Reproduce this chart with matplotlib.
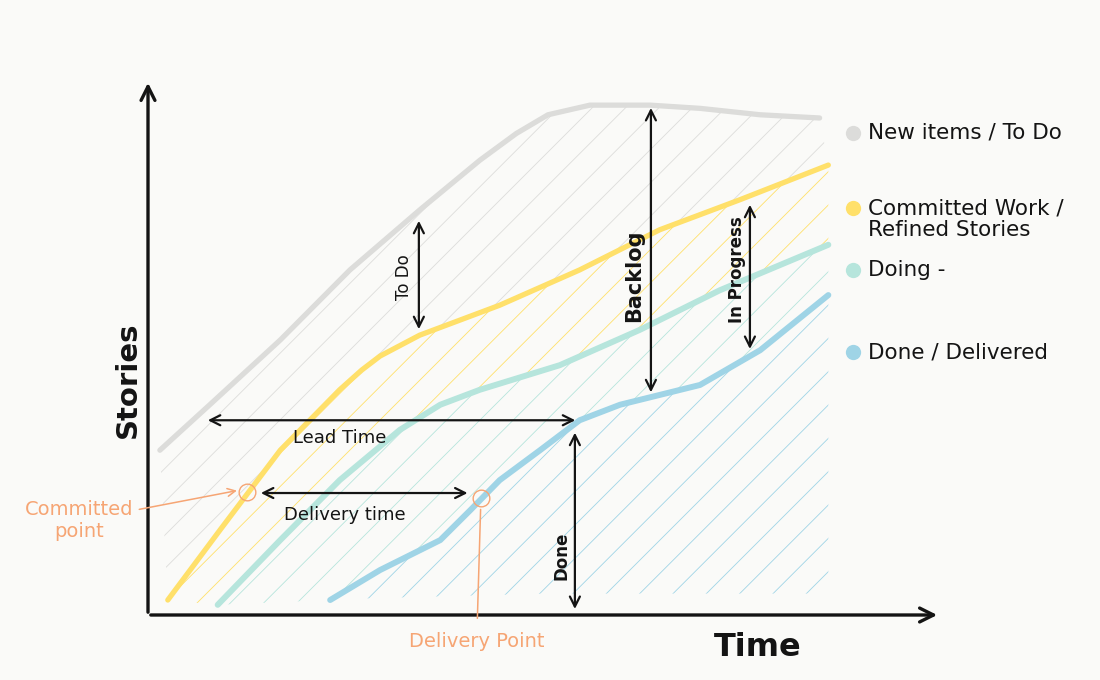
import matplotlib
matplotlib.use("Agg")
import matplotlib.pyplot as plt
from matplotlib.lines import Line2D
import numpy as np

# cumulative flow curves (time, stories)
todo_t = [1.5, 7.8, 16.7, 25.5, 34.3, 41.9, 46.5, 50.5, 55.8, 63.4, 69.7, 77.3, 84.8]
todo_y = [30.8, 39.3, 51.4, 64.5, 75.7, 85.0, 90.0, 93.5, 95.3, 95.3, 94.7, 93.5, 92.9]

committed_t = [2.5, 9.1, 16.7, 24.2, 27.0, 29.3, 34.3, 44.4, 54.5, 64.6, 74.7, 85.9]
committed_y = [2.8, 15.9, 30.8, 42.1, 45.8, 48.4, 52.3, 57.9, 64.5, 72.0, 77.6, 84.1]

doing_t = [8.8, 16.7, 24.2, 31.8, 36.9, 41.9, 52.0, 62.1, 72.2, 85.9]
doing_y = [1.9, 14.0, 25.2, 34.6, 39.3, 42.1, 46.7, 53.3, 60.7, 69.2]

done_t = [23.0, 29.3, 36.9, 40.7, 44.4, 49.5, 54.5, 59.6, 69.7, 77.3, 85.9]
done_y = [2.8, 8.4, 14.0, 19.6, 25.2, 30.8, 36.4, 39.3, 43.0, 49.5, 59.8]

# lower edge of the scribbled "done" area
floor_t = [85.9, 50.0, 25.0]
floor_y = [4.0, 4.0, 3.0]

labels = ["New items / To Do", "Committed Work /\nRefined Stories", "Doing -", "Done / Delivered"]
colors = ["#dcdcda", "#ffe06a", "#b6e5dc", "#9fd4e6"]
legend_y = [133, 208, 270, 352]  # pixel rows of the legend dots
orange = "#f6a574"
ink = "#141414"

plt.rcParams["hatch.linewidth"] = 0.6

fig = plt.figure(figsize=(11, 6.8), dpi=100, facecolor="#fafaf8")
ax = fig.add_axes([148 / 1100, 65 / 680, 792 / 1100, 535 / 680])
ax.set_facecolor("#fafaf8")
ax.set_xlim(0, 100)
ax.set_ylim(0, 100)
ax.axis("off")

# scribbled bands
bands = [
    (todo_t + committed_t[::-1], todo_y + committed_y[::-1], colors[0]),
    (committed_t + doing_t[::-1], committed_y + doing_y[::-1], colors[1]),
    (doing_t + done_t[::-1], doing_y + done_y[::-1], colors[2]),
    (done_t + floor_t, done_y + floor_y, colors[3]),
]
for bx, by, c in bands:
    ax.fill(bx, by, facecolor="none", edgecolor=c, hatch="/", linewidth=0, zorder=1)

# the curves
for t, y, c, lw in [(todo_t, todo_y, colors[0], 3.8),
                    (committed_t, committed_y, colors[1], 3.8),
                    (doing_t, doing_y, colors[2], 4.3),
                    (done_t, done_y, colors[3], 4.3)]:
    ax.plot(t, y, color=c, lw=lw, solid_capstyle="round", solid_joinstyle="round", zorder=3)

# axes drawn as arrows
ax.annotate("", xy=(100, 0), xytext=(0, 0),
            arrowprops=dict(arrowstyle="->", lw=2.4, color=ink, mutation_scale=25), annotation_clip=False)
ax.annotate("", xy=(0, 100), xytext=(0, 0),
            arrowprops=dict(arrowstyle="->", lw=2.4, color=ink, mutation_scale=25), annotation_clip=False)
ax.text(-2.5, 44, "Stories", rotation=90, ha="center", va="center", fontsize=21,
        fontweight="bold", color=ink, clip_on=False)
ax.text(77, -6, "Time", ha="center", va="center", fontsize=23, fontweight="bold",
        color=ink, clip_on=False)


def both_ways(x0, y0, x1, y1):
    ax.annotate("", xy=(x1, y1), xytext=(x0, y0),
                arrowprops=dict(arrowstyle="<->", lw=1.6, color=ink, mutation_scale=18),
                zorder=5)


both_ways(7.2, 36.4, 54.3, 36.4)
ax.text(24.2, 33.0, "Lead Time", ha="center", va="center", fontsize=13, color=ink)
both_ways(13.9, 22.8, 40.7, 22.8)
ax.text(24.9, 18.6, "Delivery time", ha="center", va="center", fontsize=13, color=ink)
both_ways(53.9, 34.6, 53.9, 0.6)
ax.text(52.2, 11, "Done", rotation=90, ha="center", va="center", fontsize=12,
        fontweight="bold", color=ink)
both_ways(63.5, 95.3, 63.5, 41.1)
ax.text(61.4, 63.5, "Backlog", rotation=90, ha="center", va="center", fontsize=15,
        fontweight="bold", color=ink)
both_ways(34.2, 74.2, 34.2, 52.9)
ax.text(32.3, 63.2, "To Do", rotation=90, ha="center", va="center", fontsize=12, color=ink)
both_ways(76.0, 77.2, 76.0, 49.2)
ax.text(74.4, 64.5, "In Progress", rotation=90, ha="center", va="center", fontsize=12,
        fontweight="bold", color=ink)

# committed / delivery points
ax.plot([12.5], [23.0], marker="o", ms=12, mfc="none", mec=orange, mew=1, zorder=6)
ax.plot([42.0], [21.8], marker="o", ms=12, mfc="none", mec=orange, mew=1, zorder=6)
ax.annotate("Committed\npoint", xy=(11.4, 23.3), xytext=(-1.8, 17.6), ha="right", va="center",
            multialignment="center", fontsize=14, color=orange, annotation_clip=False,
            arrowprops=dict(arrowstyle="->", color=orange, lw=1.1, mutation_scale=14,
                            shrinkA=2, shrinkB=1))
ax.annotate("Delivery Point", xy=(42.0, 20.0), xytext=(41.5, -5.0), ha="center", va="center",
            fontsize=14, color=orange, annotation_clip=False,
            arrowprops=dict(arrowstyle="-", color=orange, lw=1.1, shrinkA=8, shrinkB=1))

# legend on the right, one entry at a time
for lab, c, py in zip(labels, colors, legend_y):
    fy = 1 - py / 680
    fig.add_artist(Line2D([853 / 1100], [fy], ls="none", marker="o", ms=11, mfc=c, mec="none",
                          transform=fig.transFigure))
    # two-line entry hangs below its dot
    shift = -0.017 if "\n" in lab else 0.0
    fig.text(868 / 1100, fy + shift, lab, ha="left", va="center", fontsize=15.5,
             color=ink, linespacing=1.1)

fig.savefig("out.png", dpi=100, facecolor=fig.get_facecolor())
